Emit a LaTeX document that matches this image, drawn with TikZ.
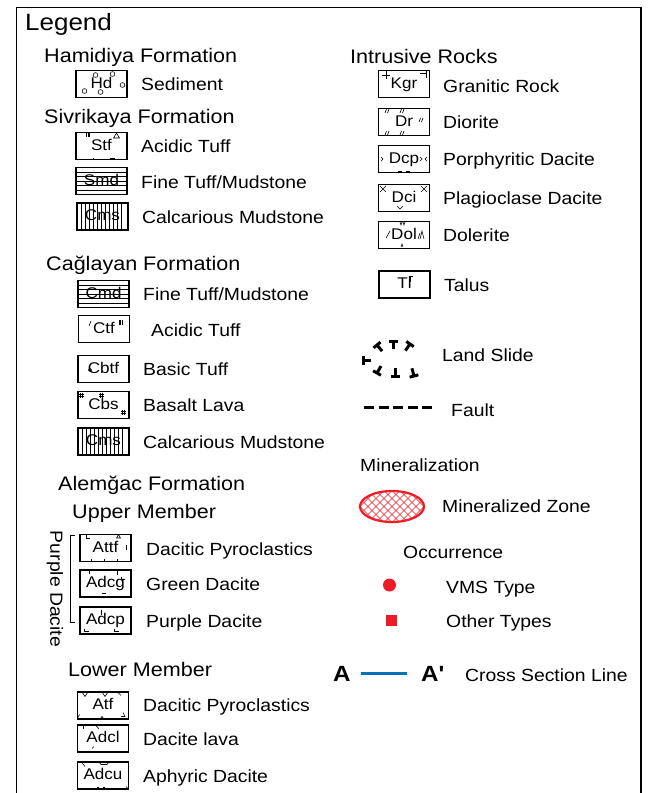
\documentclass[tikz,border=0pt]{standalone}
\usepackage{fontspec}
\setmainfont{Liberation Sans}[FakeStretch=1.1]
\usepackage{tikz}
\definecolor{zoneRed}{RGB}{237, 28, 36}
\definecolor{lineBlue}{RGB}{0, 114, 188}
\newcommand{\lblfont}{\fontsize{17.6}{20}\selectfont}
\newcommand{\headfont}{\fontsize{19.6}{22}\selectfont}
\newcommand{\unitfont}{\fontsize{15.5}{17}\selectfont}

\begin{document}
\begin{tikzpicture}[x=1pt, y=-1pt,
    unit/.style={draw, line width=1.1pt, minimum width=51pt, minimum height=27pt,
      inner sep=0pt, text height=11pt, text depth=2.5pt, font=\unitfont},
    lbl/.style={anchor=base west, inner sep=0pt, font=\lblfont},
    head/.style={anchor=base west, inner sep=0pt, font=\headfont},
    orn/.style={line width=0.6pt}]
  \useasboundingbox (0,0) rectangle (669,793);
  % frame, open at the bottom
  \draw[line width=1.6pt] (16.5,800) -- (16.5,7.5) -- (641,7.5) -- (641,800);
  \node[anchor=base west, inner sep=0pt, font=\fontsize{23.6}{26}\selectfont] (legend) at (25,30) {Legend};

  % Hamidiya Formation
  \node[head] (hamidiya) at (44,62) {Hamidiya Formation};
  \node[unit] (hd) at (101.5,84) {Hd};
  \node[lbl] (hdL) at (141,90.5) {Sediment};
  \begin{scope}[shift={(hd.center)}, orn]
    \foreach \p in {(-6,-9),(11,-10),(-17,7),(-1,8),(21,1)}
      \draw \p circle (2.4);
  \end{scope}

  % Sivrikaya Formation
  \node[head] (sivrikaya) at (44,123) {Sivrikaya Formation};
  \node[unit] (stf) at (101.5,146) {Stf};
  \node[lbl] (stfL) at (141,152.5) {Acidic Tuff};
  \begin{scope}[shift={(stf.center)}, orn]
    \foreach \dx in {-15,-13.5,-12}
      \draw (\dx,-13) -- (\dx,-9);
    \draw (12,-8) -- (15,-13) -- (18,-8) -- cycle;
    \draw (-8,11.5) -- (-8,13.5) (8,12.5) -- (13,12.5);
  \end{scope}
  \node[unit] (smd) at (101.5,181) {Smd};
  \node[lbl] (smdL) at (141,188) {Fine Tuff/Mudstone};
  \begin{scope}[shift={(smd.center)}, orn]
    \foreach \dy in {-9,-4.5,0,4.5,9}
      \draw (-25.5,\dy) -- (25.5,\dy);
  \end{scope}
  \node[unit] (cmsA) at (102.5,216.5) {Cms};
  \node[lbl] (cmsAL) at (142,223) {Calcarious Mudstone};
  \begin{scope}[shift={(cmsA.center)}, orn]
    \foreach \dx in {-21,-17,...,21}
      \draw (\dx,-13.5) -- (\dx,13.5);
  \end{scope}

  % Cağlayan Formation
  \node[head] (caglayan) at (46,270) {Cağlayan Formation};
  \node[unit] (cmd) at (103.5,294) {Cmd};
  \node[lbl] (cmdL) at (143,300.5) {Fine Tuff/Mudstone};
  \begin{scope}[shift={(cmd.center)}, orn]
    \foreach \dy in {-9,-4.5,0,4.5,9}
      \draw (-25.5,\dy) -- (25.5,\dy);
  \end{scope}
  \node[unit] (ctf) at (104,329) {Ctf};
  \node[lbl] (ctfL) at (151,336) {Acidic Tuff};
  \begin{scope}[shift={(ctf.center)}, orn]
    \draw (-15,-3) -- (-13,-8);
    \foreach \dx in {15,16.5,18}
      \draw (\dx,-9) -- (\dx,-4);
  \end{scope}
  \node[unit] (cbtf) at (103.5,369) {Cbtf};
  \node[lbl] (cbtfL) at (143,375) {Basic Tuff};
  \begin{scope}[shift={(cbtf.center)}, orn]
    \draw (-13.5,1) circle (1.6);
  \end{scope}
  \node[unit] (cbs) at (103.5,405) {Cbs};
  \node[lbl] (cbsL) at (143,411.5) {Basalt Lava};
  \begin{scope}[shift={(cbs.center)}, orn]
    \foreach \x/\y in {-22/-10,-2/-10,20/7}
      \draw (\x-1,\y-2.5) -- (\x-1,\y+2.5) (\x+1,\y-2.5) -- (\x+1,\y+2.5)
            (\x-2.5,\y-1) -- (\x+2.5,\y-1) (\x-2.5,\y+1) -- (\x+2.5,\y+1);
  \end{scope}
  \node[unit] (cmsB) at (103.5,441.5) {Cms};
  \node[lbl] (cmsBL) at (143,448) {Calcarious Mudstone};
  \begin{scope}[shift={(cmsB.center)}, orn]
    \foreach \dx in {-21,-17,...,21}
      \draw (\dx,-13.5) -- (\dx,13.5);
  \end{scope}

  % Alemğac Formation
  \node[head] (alemgac) at (58,490) {Alemğac Formation};
  \node[head] (upper) at (72,518) {Upper Member};
  \node[unit] (attf) at (105.5,548) {Attf};
  \node[lbl] (attfL) at (146,555) {Dacitic Pyroclastics};
  \begin{scope}[shift={(attf.center)}, orn]
    \draw (-19,-13.5) -- (-19,-10) -- (-16,-10);
    \draw (11,-10) -- (13,-13.5) -- (15,-10) -- cycle;
    \draw (21,-3) -- (21,2);
    \draw (-14,13.5) -- (-14,11) (-1,13.5) -- (-1,11) (12,13.5) -- (12,11);
  \end{scope}
  \node[unit] (adcg) at (105.5,583.5) {Adcg};
  \node[lbl] (adcgL) at (146,590.5) {Green Dacite};
  \begin{scope}[shift={(adcg.center)}, orn]
    \draw (-16,-13.5) -- (-16,-10) (12,-13.5) -- (12,-9);
    \draw (16,-7) -- (16,-4) -- (19,-4);
    \draw (-4,10) -- (0,10);
  \end{scope}
  \node[unit] (adcp) at (105.5,620.5) {Adcp};
  \node[lbl] (adcpL) at (146,627) {Purple Dacite};
  \begin{scope}[shift={(adcp.center)}, orn]
    \draw (-4,-11) -- (-4,-6);
    \draw (-21,8) -- (-21,11) -- (-17,11);
    \draw (9,8) -- (9,11) -- (13,11);
  \end{scope}
  % bracket of the purple dacite
  \draw[line width=0.8pt] (75,535) -- (70.5,535) -- (70.5,622) -- (75,622);
  \node[rotate=-90, inner sep=0pt, font=\lblfont] (purpleV) at (55,589) {Purple Dacite};

  \node[head] (lower) at (68,676) {Lower Member};
  \node[unit] (atf) at (103,705.5) {Atf};
  \node[lbl] (atfL) at (143,711.5) {Dacitic Pyroclastics};
  \begin{scope}[shift={(atf.center)}, orn]
    \draw (-21,-13.5) -- (-18,-9) -- (-15,-13.5);
    \draw (-1,-13.5) -- (2,-9) -- (5,-13.5);
    \draw (15,-13) -- (18,-10);
    \draw (-25,12) -- (-23.5,9);
    \draw (20,7) -- (22,11) -- (18,11);
    \draw (-3,13.5) -- (-1,11) -- (1,13.5);
  \end{scope}
  \node[unit] (adcl) at (103,738.5) {Adcl};
  \node[lbl] (adclL) at (143,745) {Dacite lava};
  \begin{scope}[shift={(adcl.center)}, orn]
    \draw (-20,-13) -- (-20,-10);
    \draw (-7,-13) -- (-4,-9.5);
    \draw (-11,10) -- (-9,8);
  \end{scope}
  \node[unit] (adcu) at (103,775.5) {Adcu};
  \node[lbl] (adcuL) at (143,782) {Aphyric Dacite};
  \begin{scope}[shift={(adcu.center)}, orn]
    \draw (-21,-13) -- (-18,-9);
    \draw (-4,-13.5) -- (-2,-11) -- (4,-11) -- (6,-13.5);
    \draw (-6,12) -- (-4,12) (0,12) -- (2,12);
    \draw (23,11) -- (25,13);
  \end{scope}

  % Intrusive Rocks
  \node[head] (intrusive) at (350,63) {Intrusive Rocks};
  \node[unit] (kgr) at (404,84) {Kgr};
  \node[lbl] (kgrL) at (443,92) {Granitic Rock};
  \begin{scope}[shift={(kgr.center)}, orn]
    \draw (-22,-9) -- (-14,-9) (-18,-13) -- (-18,-5);
    \draw (16,-11) -- (22,-11) (22,-13.5) -- (22,-6);
  \end{scope}
  \node[unit] (dr) at (404,122) {Dr};
  \node[lbl] (drL) at (443,128.5) {Diorite};
  \begin{scope}[shift={(dr.center)}, orn]
    \foreach \x/\y in {-19/-11,-4/-11,15/-2,-19/11,-4/11}
      \draw (\x,\y+2) -- (\x+1.5,\y-2) (\x+2.5,\y+2) -- (\x+4,\y-2);
  \end{scope}
  \node[unit] (dcp) at (404,159) {Dcp};
  \node[lbl] (dcpL) at (443,165.5) {Porphyritic Dacite};
  \begin{scope}[shift={(dcp.center)}, orn]
    \draw (-23,-2) -- (-21,0) -- (-23,2);
    \draw (16,-2) -- (18,0) -- (16,2) (23,-2) -- (21,0) -- (23,2);
    \draw (-6,12) -- (-2,12) (2,12) -- (6,12);
  \end{scope}
  \node[unit] (dci) at (404,198) {Dci};
  \node[lbl] (dciL) at (443,204.5) {Plagioclase Dacite};
  \begin{scope}[shift={(dci.center)}, orn]
    \foreach \x in {-21,20}
      \draw (\x-3,-12) -- (\x+3,-6) (\x-3,-6) -- (\x+3,-12);
    \draw (-7,8) -- (-4,11) -- (-1,8);
  \end{scope}
  \node[unit] (dol) at (404,235) {Dol};
  \node[lbl] (dolL) at (443,241.5) {Dolerite};
  \begin{scope}[shift={(dol.center)}, orn]
    \draw (-18,3) -- (-14,-4);
    \draw (-4,-13) -- (-3,-10) -- (-2,-13) (-1,-13) -- (0,-10) -- (1,-13);
    \draw (16,4) -- (18,-4) -- (20,4) (14,4) -- (16,-2);
    \draw (-3,12) -- (-2,9) -- (-1,12);
  \end{scope}
  \node[unit] (tl) at (404.5,284.5) {Tl};
  \node[lbl] (tlL) at (444,291) {Talus};
  \begin{scope}[shift={(tl.center)}, orn]
    \draw (4,-8) -- (8,-8) (6,-8) -- (6,-3);
  \end{scope}

  % land slide
  \foreach \x/\y/\r in {377/345/40, 393/341/0, 410/344/-35, 363/360/90, 377/373/150, 395/376/180, 414/376/195}
    \draw[line width=3pt, shift={(\x,\y)}, rotate=\r] (-4.5,0) -- (4.5,0) (0,0) -- (0,8);
  \node[lbl] (slideL) at (442,361.5) {Land Slide};

  % fault
  \coordinate (f1) at (364,407);
  \coordinate (f2) at (433,407);
  \draw[line width=3pt, dash pattern=on 10pt off 4.5pt] (f1) -- (f2);
  \node[lbl] (faultL) at (451,416) {Fault};

  % Mineralization
  \node[lbl] (mineral) at (360,471) {Mineralization};
  \begin{scope}
    \clip (392,506.5) ellipse (32 and 15.5);
    \foreach \i in {-64,-56,...,64}
      \draw[zoneRed, line width=0.6pt] (392+\i-21.5,485) -- (392+\i+21.5,528)
                                      (392+\i+21.5,485) -- (392+\i-21.5,528);
  \end{scope}
  \draw[zoneRed, line width=2.2pt] (392,506.5) ellipse (32 and 15.5);
  \node[lbl] (zoneL) at (442,512.5) {Mineralized Zone};

  \node[lbl] (occurrence) at (403,558) {Occurrence};
  \node[circle, fill=zoneRed, minimum size=13pt, inner sep=0pt] (vms) at (389.5,585) {};
  \node[lbl] (vmsL) at (446,593) {VMS Type};
  \node[fill=zoneRed, minimum size=11pt, inner sep=0pt] (other) at (391,620.5) {};
  \node[lbl] (otherL) at (446,627) {Other Types};

  % cross section
  \node[anchor=base west, inner sep=0pt, font=\fontsize{22}{24}\selectfont\bfseries] (a) at (333,681) {A};
  \node[anchor=base west, inner sep=0pt, font=\fontsize{22}{24}\selectfont\bfseries] (aprime) at (421,681) {A\textquotesingle};
  \draw[lineBlue, line width=2.6pt, shorten <=10pt, shorten >=14pt] (a) -- (aprime);
  \node[lbl] (crossL) at (465,681.5) {Cross Section Line};
\end{tikzpicture}
\end{document}
